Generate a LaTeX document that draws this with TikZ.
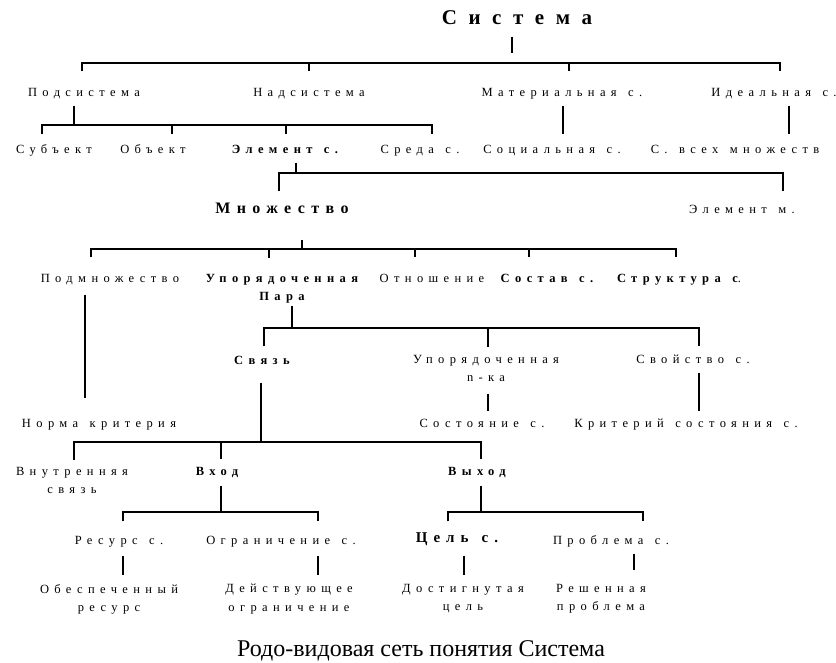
\documentclass[tikz,border=0pt]{standalone}
\usepackage{fontspec}
\setmainfont{Liberation Serif}
\newfontfamily\spaced[LetterSpace=43,WordSpace=1.35]{Liberation Serif}
\newfontfamily\spacedt[LetterSpace=55]{Liberation Serif}
\newfontfamily\spacedm[LetterSpace=40,WordSpace=1.35]{Liberation Serif}

\tikzset{
  lab/.style={inner sep=0pt,anchor=base,font=\spaced\fontsize{12.5pt}{18.5pt}\selectfont},
  one/.style={lab,text height=8.5pt,text depth=2.7pt},
  two/.style={lab,align=center,anchor=north},
  bf/.style={font=\spaced\bfseries\fontsize{12.5pt}{18.5pt}\selectfont},
  title/.style={lab,font=\spacedt\bfseries\fontsize{21pt}{21pt}\selectfont,text height=14pt,text depth=4.5pt},
  big/.style={lab,font=\spacedm\bfseries\fontsize{16pt}{16pt}\selectfont,text height=11pt,text depth=3.5pt},
  mid/.style={lab,font=\spacedm\bfseries\fontsize{15pt}{15pt}\selectfont,text height=10.5pt,text depth=3.3pt},
}

\begin{document}
\begin{tikzpicture}[x=1pt,y=-1pt,line width=1.1pt]
  \useasboundingbox (0,0) rectangle (836,662);

  % Labels
  \node[title] (sys) at (517,24) {Система};
  \node[one] (pod) at (84,96) {Подсистема};
  \node[one] (nad) at (309,96) {Надсистема};
  \node[one] (mat) at (562,96) {Материальная с.};
  \node[one] (ide) at (774,96) {Идеальная с.};
  \node[one] (sub) at (54,153) {Субъект};
  \node[one] (obj) at (153,153) {Объект};
  \node[one,bf] (elem) at (285,153) {Элемент с.};
  \node[one] (sred) at (420,153) {Среда с.};
  \node[one] (soc) at (552,153) {Социальная с.};
  \node[one] (vse) at (735,153) {С. всех множеств};
  \node[big] (mn) at (282,213) {Множество};
  \node[one] (elm) at (742,213) {Элемент м.};
  \node[one] (podm) at (110,282) {Подмножество};
  \node[two,bf] (upp) at (282,273.7) {Упорядоченная\\Пара};
  \node[one] (otn) at (432,282) {Отношение};
  \node[one,bf] (sost) at (547,282) {Состав с.};
  \node[one] (str) at (679,282) {\textbf{Структура с}.};
  \node[one,bf] (svz) at (262,364) {Связь};
  \node[two] (upn) at (486,354.7) {Упорядоченная\\n-ка};
  \node[one] (svo) at (693,363) {Свойство с.};
  \node[one] (norm) at (99,427) {Норма критерия};
  \node[one] (sos) at (482,427) {Состояние с.};
  \node[one] (krit) at (686,427) {Критерий состояния с.};
  \node[two] (vnut) at (72,466.7) {Внутренняя\\связь};
  \node[one,bf] (vhod) at (217,475) {Вход};
  \node[one,bf] (vyh) at (477,475) {Выход};
  \node[one] (res) at (119,544) {Ресурс с.};
  \node[one] (ogr) at (281,544) {Ограничение с.};
  \node[mid] (cel) at (457,542) {Цель с.};
  \node[one] (prob) at (611,544) {Проблема с.};
  \node[two] (obes) at (109,583.7) {Обеспеченный\\ресурс};
  \node[two] (deis) at (289,583.7) {Действующее\\ограничение};
  \node[two] (dost) at (463,583.7) {Достигнутая\\цель};
  \node[two] (resh) at (601,583.7) {Решенная\\проблема};
  \node[anchor=base,inner sep=0pt,font=\fontsize{24pt}{24pt}\selectfont] (cap) at (421,656) {Родо-видовая сеть понятия Система};

  % Система
  \coordinate (b1) at (512,63);
  \coordinate (b1w) at (82,63);
  \coordinate (b1e) at (780,63);
  \coordinate (t1b) at (309,63);
  \coordinate (t1c) at (569,63);
  \draw[shorten <=7.5pt,shorten >=10pt] (sys.south -| b1) -- (b1);
  \draw[shorten <=15.5pt,shorten >=15.5pt] (b1w |- pod.north) -- (b1w) -- (b1e) -- (b1e |- ide.north);
  \draw[shorten >=15.5pt] (t1b) -- (t1b |- nad.north);
  \draw[shorten >=15.5pt] (t1c) -- (t1c |- mat.north);

  % Подсистема
  \coordinate (b2) at (74,125);
  \coordinate (b2w) at (42,125);
  \coordinate (b2e) at (432,125);
  \coordinate (t2b) at (172,125);
  \coordinate (t2c) at (286,125);
  \draw[shorten <=6.3pt] (pod.south -| b2) -- (b2);
  \draw[shorten <=9.5pt,shorten >=9.5pt] (b2w |- sub.north) -- (b2w) -- (b2e) -- (b2e |- sred.north);
  \draw[shorten >=9.5pt] (t2b) -- (t2b |- obj.north);
  \draw[shorten >=9.5pt] (t2c) -- (t2c |- elem.north);
  \draw[shorten <=6.3pt,shorten >=9.5pt] ([xshift=1pt]mat.south) -- ([xshift=11pt]soc.north);
  \draw[shorten <=6.3pt,shorten >=9.5pt] ([xshift=15pt]ide.south) -- ([xshift=54pt]vse.north);

  % Элемент с.
  \coordinate (b3) at (296,173);
  \coordinate (b3w) at (279,173);
  \coordinate (b3e) at (783,173);
  \draw[shorten <=6.3pt] (elem.south -| b3) -- (b3);
  \draw[shorten <=10pt,shorten >=12.5pt] (b3w |- mn.north) -- (b3w) -- (b3e) -- (b3e |- elm.north);

  % Множество
  \coordinate (b4) at (302,249);
  \coordinate (b4w) at (91,249);
  \coordinate (b4e) at (676,249);
  \coordinate (t4b) at (269,249);
  \coordinate (t4c) at (415,249);
  \coordinate (t4d) at (529,249);
  \draw[shorten <=22.5pt] (mn.south -| b4) -- (b4);
  \draw[shorten <=15.5pt,shorten >=15.5pt] (b4w |- podm.north) -- (b4w) -- (b4e) -- (b4e |- str.north);
  \draw[shorten >=15.5pt] (t4b) -- (t4b |- upp.north);
  \draw[shorten >=15.5pt] (t4c) -- (t4c |- otn.north);
  \draw[shorten >=15.5pt] (t4d) -- (t4d |- sost.north);
  \draw[shorten <=9.3pt,shorten >=19.5pt] ([xshift=-25pt]podm.south) -- ([xshift=-14pt]norm.north);

  % Упорядоченная пара
  \coordinate (b5) at (292,328);
  \coordinate (b5w) at (264,328);
  \coordinate (b5e) at (699,328);
  \coordinate (t5b) at (488,328);
  \draw[shorten <=2.3pt] (upp.south -| b5) -- (b5);
  \draw[shorten <=8.5pt,shorten >=7.5pt] (b5w |- svz.north) -- (b5w) -- (b5e) -- (b5e |- svo.north);
  \draw[shorten >=7.5pt] (t5b) -- (t5b |- upn.north);
  \draw[shorten <=11pt,shorten >=6.5pt] ([xshift=2pt]upn.south) -- ([xshift=6pt]sos.north);
  \draw[shorten <=6.3pt,shorten >=6.5pt] ([xshift=6pt]svo.south) -- ([xshift=13pt]krit.north);

  % Связь
  \coordinate (b6) at (261,442);
  \coordinate (b6w) at (74,442);
  \coordinate (b6e) at (481,442);
  \coordinate (t6b) at (221,442);
  \draw[shorten <=15.3pt] (svz.south -| b6) -- (b6);
  \draw[shorten <=6.5pt,shorten >=6.5pt] (b6w |- vnut.north) -- (b6w) -- (b6e) -- (b6e |- vyh.north);
  \draw[shorten >=6.5pt] (t6b) -- (t6b |- vhod.north);

  % Вход, Выход
  \coordinate (b7) at (221,512);
  \coordinate (b7w) at (123,512);
  \coordinate (b7e) at (318,512);
  \coordinate (b8) at (481,512);
  \coordinate (b8w) at (448,512);
  \coordinate (b8e) at (643,512);
  \draw[shorten <=7.3pt] (vhod.south -| b7) -- (b7);
  \draw[shorten <=13.5pt,shorten >=13.5pt] (b7w |- res.north) -- (b7w) -- (b7e) -- (b7e |- ogr.north);
  \draw[shorten <=7.3pt] (vyh.south -| b8) -- (b8);
  \draw[shorten <=9.5pt,shorten >=13.5pt] (b8w |- cel.north) -- (b8w) -- (b8e) -- (b8e |- prob.north);

  % Нижний ряд
  \draw[shorten <=8.3pt,shorten >=8.7pt] ([xshift=4pt]res.south) -- ([xshift=14pt]obes.north);
  \draw[shorten <=8.3pt,shorten >=8.7pt] ([xshift=37pt]ogr.south) -- ([xshift=29pt]deis.north);
  \draw[shorten <=9.7pt,shorten >=8.7pt] ([xshift=7pt]cel.south) -- ([xshift=1pt]dost.north);
  \draw[shorten <=6.3pt,shorten >=13.7pt] ([xshift=23pt]prob.south) -- ([xshift=33pt]resh.north);
\end{tikzpicture}
\end{document}
